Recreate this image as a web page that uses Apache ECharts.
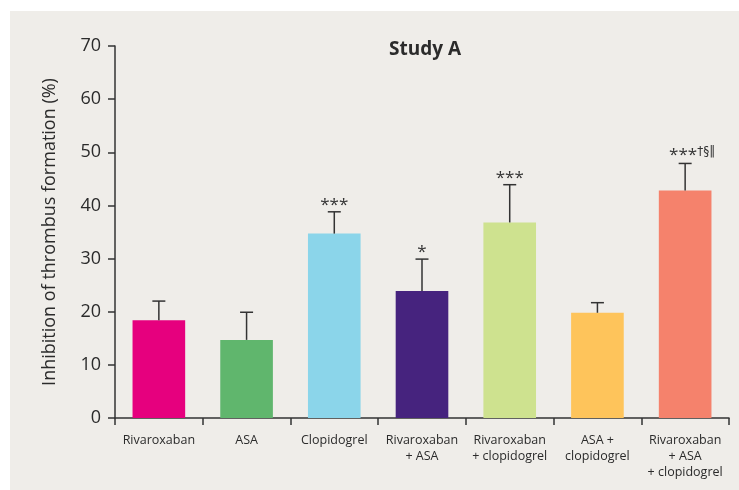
<!DOCTYPE html>
<html>
<head>
<meta charset="utf-8">
<script src="https://cdn.jsdelivr.net/npm/echarts@6/dist/echarts.min.js"></script>
<style>
  html, body { margin: 0; padding: 0; background: #fff; }
  #chart { width: 739px; height: 490px; }
</style>
</head>
<body>
<div id="chart"></div>
<script>
  // categories on the x axis
  const categories = [
    'Rivaroxaban',
    'ASA',
    'Clopidogrel',
    'Rivaroxaban\n+ ASA',
    'Rivaroxaban\n+ clopidogrel',
    'ASA +\nclopidogrel',
    'Rivaroxaban\n+ ASA\n+ clopidogrel'
  ]
  // mean inhibition (%)
  const means = [18.4, 14.7, 34.7, 23.9, 36.8, 19.8, 42.8]
  // top of error bar (%)
  const errTops = [22.0, 19.9, 38.8, 29.9, 43.9, 21.7, 47.9]
  // significance marks
  const marks = ['', '', '***', '*', '***', '', '***']
  const superMarks = ['', '', '', '', '', '', '†§‖']
  const barColors = ['#e6007e', '#60b66d', '#8bd5ea', '#46237e', '#cee28f', '#fec45b', '#f5826c']

  const font = 'Open Sans'
  const textColor = '#2b2b2b'

  const chartDom = echarts.init(document.getElementById('chart'))

  chartDom.setOption({
    animation: false,
    textStyle: { fontFamily: font },
    graphic: [
      {
        type: 'rect',
        z: -10,
        silent: true,
        shape: { x: 10, y: 11, width: 729, height: 479 },
        style: { fill: '#efede9' }
      }
    ],
    title: {
      text: 'Study A',
      left: 420,
      textAlign: 'center',
      top: 35,
      textStyle: { fontFamily: font, fontSize: 19, fontWeight: 'bold', color: textColor }
    },
    grid: { left: 115, right: 10, top: 46, bottom: 72, containLabel: false },
    xAxis: {
      type: 'category',
      data: categories,
      axisLine: { show: true, lineStyle: { color: '#333', width: 1.5 } },
      axisTick: { show: true, length: 7, alignWithLabel: false, lineStyle: { color: '#333', width: 1.5 } },
      axisLabel: {
        interval: 0,
        margin: 14,
        fontSize: 12.5,
        lineHeight: 16,
        color: textColor,
        fontFamily: font
      }
    },
    yAxis: {
      type: 'value',
      min: 0,
      max: 70,
      interval: 10,
      name: 'Inhibition of thrombus formation (%)',
      nameLocation: 'middle',
      nameGap: 56,
      nameTextStyle: { fontSize: 18, color: textColor, fontFamily: font },
      axisLine: { show: true, lineStyle: { color: '#333', width: 1.5 } },
      axisTick: { show: true, length: 7, lineStyle: { color: '#333', width: 1.5 } },
      axisLabel: { margin: 14, fontSize: 18, color: textColor, fontFamily: font },
      splitLine: { show: false }
    },
    series: [
      {
        type: 'bar',
        barWidth: '60%',
        data: means.map((v, i) => ({ value: v, itemStyle: { color: barColors[i] } }))
      },
      {
        type: 'custom',
        z: 5,
        data: errTops.map((t, i) => [i, means[i], t]),
        renderItem: (params, api) => {
          const i = api.value(0)
          const base = api.coord([i, api.value(1)])
          const top = api.coord([i, api.value(2)])
          const x = base[0]
          const capHalf = 6.5
          const children = [
            {
              type: 'line',
              shape: { x1: x, y1: base[1], x2: x, y2: top[1] },
              style: { stroke: '#333', lineWidth: 1.5 }
            },
            {
              type: 'line',
              shape: { x1: x - capHalf, y1: top[1], x2: x + capHalf, y2: top[1] },
              style: { stroke: '#333', lineWidth: 1.5 }
            }
          ]
          if (marks[i]) {
            const sup = superMarks[i]
            children.push({
              type: 'text',
              x: x + (sup ? 7 : 0),
              y: top[1] + 2,
              style: {
                text: sup ? '{a|' + marks[i] + '}{s|' + sup + '}' : '{a|' + marks[i] + '}',
                align: 'center',
                verticalAlign: 'bottom',
                rich: {
                  a: { fontSize: 17, fontFamily: font, fill: '#333', lineHeight: 18 },
                  s: { fontSize: 12, fontFamily: 'DejaVu Sans', fill: '#333', verticalAlign: 'top', lineHeight: 20 }
                }
              }
            })
          }
          return { type: 'group', children }
        }
      }
    ]
  })

  window.addEventListener('resize', () => chartDom.resize())
</script>
</body>
</html>
